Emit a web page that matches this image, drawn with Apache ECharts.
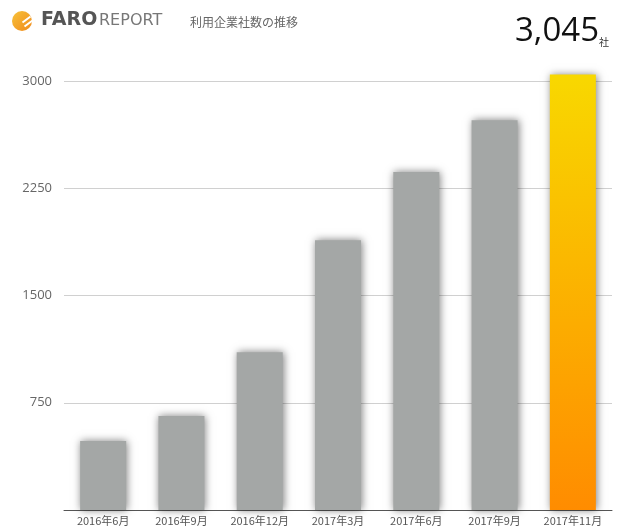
<!DOCTYPE html>
<html>
<head>
<meta charset="UTF-8">
<title>利用企業社数の推移</title>
<script src="https://cdn.jsdelivr.net/npm/echarts@6/dist/echarts.min.js"></script>
<style>
  html, body { margin: 0; padding: 0; background: #fff; }
  #main { width: 624px; height: 528px; }
</style>
</head>
<body>
<div id="main"></div>
<script type="text/javascript">
var categories = ['2016年6月', '2016年9月', '2016年12月', '2017年3月', '2017年6月', '2017年9月', '2017年11月'];
var companies = [482, 657, 1104, 1887, 2363, 2726, 3045];
var yTicks = [0, 750, 1500, 2250, 3000];
var latestLabel = '3,045';

var myChart = echarts.init(document.getElementById('main'));

// 最新月だけグラデーション
var barData = companies.map(function (v, i) {
  if (i === companies.length - 1) {
    return {
      value: v,
      itemStyle: {
        color: new echarts.graphic.LinearGradient(0, 0, 0, 1, [
          { offset: 0, color: '#f8d800' },
          { offset: 1, color: '#ff8c00' }
        ])
      }
    };
  }
  return v;
});

var option = {
  backgroundColor: '#fff',
  animation: false,
  grid: { left: 64, right: 12, top: 81, bottom: 18 },
  xAxis: {
    type: 'category',
    data: categories,
    axisLine: { lineStyle: { color: '#555', width: 1 } },
    axisTick: { show: false },
    axisLabel: { color: '#555', fontSize: 11, margin: 5, interval: 0, fontFamily: 'Noto Sans CJK JP' }
  },
  yAxis: {
    type: 'value',
    min: yTicks[0],
    max: yTicks[yTicks.length - 1],
    interval: 750,
    axisLine: { show: false },
    axisTick: { show: false },
    axisLabel: {
      color: '#666', fontSize: 13, margin: 12, fontFamily: 'Open Sans',
      formatter: function (v) { return v === 0 ? '' : String(v); }
    },
    splitLine: { lineStyle: { color: '#d0d0d0', width: 1 } }
  },
  series: [{
    type: 'bar',
    data: barData,
    barWidth: 46,
    clip: false,
    itemStyle: {
      color: '#a4a7a6',
      shadowColor: 'rgba(0,0,0,0.5)',
      shadowBlur: 8,
      shadowOffsetX: 1,
      shadowOffsetY: 0
    }
  }],
  graphic: [
    { type: 'circle', left: 12, top: 11, shape: { r: 10 },
      style: { fill: new echarts.graphic.LinearGradient(0, 0, 1, 1, [
        { offset: 0, color: '#f7c23a' }, { offset: 1, color: '#f08a1c' }]) } },
    { type: 'polyline', left: 20, top: 14, shape: { points: [[0, 6], [8, 0]] },
      style: { stroke: '#fff', lineWidth: 2 } },
    { type: 'polyline', left: 22, top: 18, shape: { points: [[0, 6], [8, 0]] },
      style: { stroke: '#fff', lineWidth: 2 } },
    { type: 'text', left: 41, top: 11,
      style: { text: 'FARO', fill: '#555', fontSize: 19, fontWeight: 'bold', fontFamily: 'DejaVu Sans' } },
    { type: 'text', left: 99, top: 13,
      style: { text: 'REPORT', fill: '#777', fontSize: 16, fontFamily: 'DejaVu Sans' } },
    { type: 'text', left: 190, top: 16,
      style: { text: '利用企業社数の推移', fill: '#666', fontSize: 12, fontFamily: 'Noto Sans CJK JP' } },
    { type: 'text', left: 515, top: 15,
      style: { text: latestLabel, fill: '#111', fontSize: 33, fontFamily: 'Open Sans' } },
    { type: 'text', left: 599, top: 37,
      style: { text: '社', fill: '#333', fontSize: 10, fontFamily: 'Noto Sans CJK JP' } }
  ]
};

myChart.setOption(option);
</script>
</body>
</html>
